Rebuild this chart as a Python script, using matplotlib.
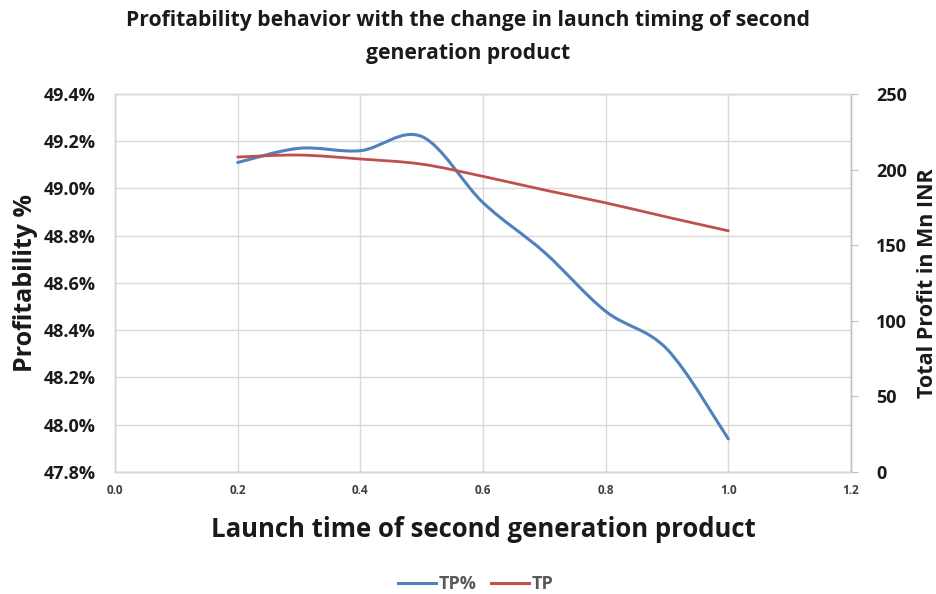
import matplotlib.pyplot as plt
import numpy as np
from matplotlib.path import Path
from matplotlib.patches import PathPatch
from matplotlib.lines import Line2D
from matplotlib.ticker import FuncFormatter, MultipleLocator

# launch time vs profitability (%) and total profit (Mn INR)
launch_time = [0.2, 0.3, 0.4, 0.5, 0.6, 0.7, 0.8, 0.9, 1.0]
tp_pct = [49.11, 49.17, 49.16, 49.22, 48.94, 48.73, 48.48, 48.32, 47.94]
tp = [208.3, 209.6, 207.0, 203.6, 195.5, 186.5, 178.0, 168.6, 159.5]

blue = '#4F81BD'
red = '#C0504D'
grid_col = '#D9D9D9'
text_col = '#1a1a1a'

plt.rcParams['font.family'] = ['Open Sans', 'DejaVu Sans']


def smooth_path(x, y):
    # excel-style smoothed line: cubic bezier segments through every point
    x = np.asarray(x, float)
    y = np.asarray(y, float)
    n = len(x)
    verts = [(x[0], y[0])]
    codes = [Path.MOVETO]
    for i in range(n - 1):
        p0 = i - 1 if i > 0 else i
        p3 = i + 2 if i + 2 < n else i + 1
        c1 = (x[i] + (x[i + 1] - x[p0]) / 6, y[i] + (y[i + 1] - y[p0]) / 6)
        c2 = (x[i + 1] - (x[p3] - x[i]) / 6, y[i + 1] - (y[p3] - y[i]) / 6)
        verts += [c1, c2, (x[i + 1], y[i + 1])]
        codes += [Path.CURVE4] * 3
    return Path(verts, codes)


fig = plt.figure(figsize=(9.36, 5.94), dpi=100)
ax = fig.add_axes([0.1229, 0.2054, 0.7863, 0.6364])
ax2 = ax.twinx()

ax.add_patch(PathPatch(smooth_path(launch_time, tp_pct), fill=False,
                       edgecolor=blue, lw=2.2, capstyle='round', zorder=3))
ax2.add_patch(PathPatch(smooth_path(launch_time, tp), fill=False,
                        edgecolor=red, lw=2.0, capstyle='round', zorder=3))

ax.set_xlim(0, 1.2)
ax.set_ylim(47.8, 49.4)
ax2.set_ylim(0, 250)
ax.xaxis.set_major_locator(MultipleLocator(0.2))
ax.yaxis.set_major_locator(MultipleLocator(0.2))
ax2.yaxis.set_major_locator(MultipleLocator(50))
ax.xaxis.set_major_formatter(FuncFormatter(lambda v, p: f'{v:.1f}'))
ax.yaxis.set_major_formatter(FuncFormatter(lambda v, p: f'{v:.1f}%'))

ax.grid(True, color=grid_col, lw=1.0)
ax.set_axisbelow(True)
for a in (ax, ax2):
    for s in a.spines.values():
        s.set_color(grid_col)
        s.set_linewidth(1.0)
ax2.spines['right'].set_color('#BFBFBF')
ax.spines['left'].set_color('#BFBFBF')
ax.spines['bottom'].set_color('#BFBFBF')

ax.tick_params(axis='y', length=0, pad=14, labelsize=13, labelcolor=text_col)
ax.tick_params(axis='x', length=0, pad=9, labelsize=8.5, labelcolor='#404040')
ax2.tick_params(axis='y', length=5, color='#BFBFBF', pad=13, labelsize=13,
                labelcolor=text_col)
for lab in ax.get_yticklabels() + ax2.get_yticklabels() + ax.get_xticklabels():
    lab.set_fontweight('bold')

ax.set_xlabel('Launch time of second generation product', fontsize=18.5,
              fontweight='bold', color=text_col, labelpad=13)
ax.set_ylabel('Profitability %', fontsize=18, fontweight='bold',
              color=text_col, labelpad=4)
ax2.set_ylabel('Total Profit in Mn INR', fontsize=15.5, fontweight='bold',
               color=text_col, labelpad=7)

fig.suptitle('Profitability behavior with the change in launch timing of second\n'
             'generation product', fontsize=15.2, fontweight='bold',
             color=text_col, y=0.984, linespacing=1.8)

handles = [Line2D([], [], color=blue, lw=2.2), Line2D([], [], color=red, lw=2.2)]
fig.legend(handles, ['TP%', 'TP'], loc='center', bbox_to_anchor=(0.508, 0.016),
           ncol=2, frameon=False, handlelength=2.1, columnspacing=0.8,
           handletextpad=0.15, prop={'weight': 'bold', 'size': 13},
           labelcolor='#595959')

fig.savefig('out.png', dpi=100)
